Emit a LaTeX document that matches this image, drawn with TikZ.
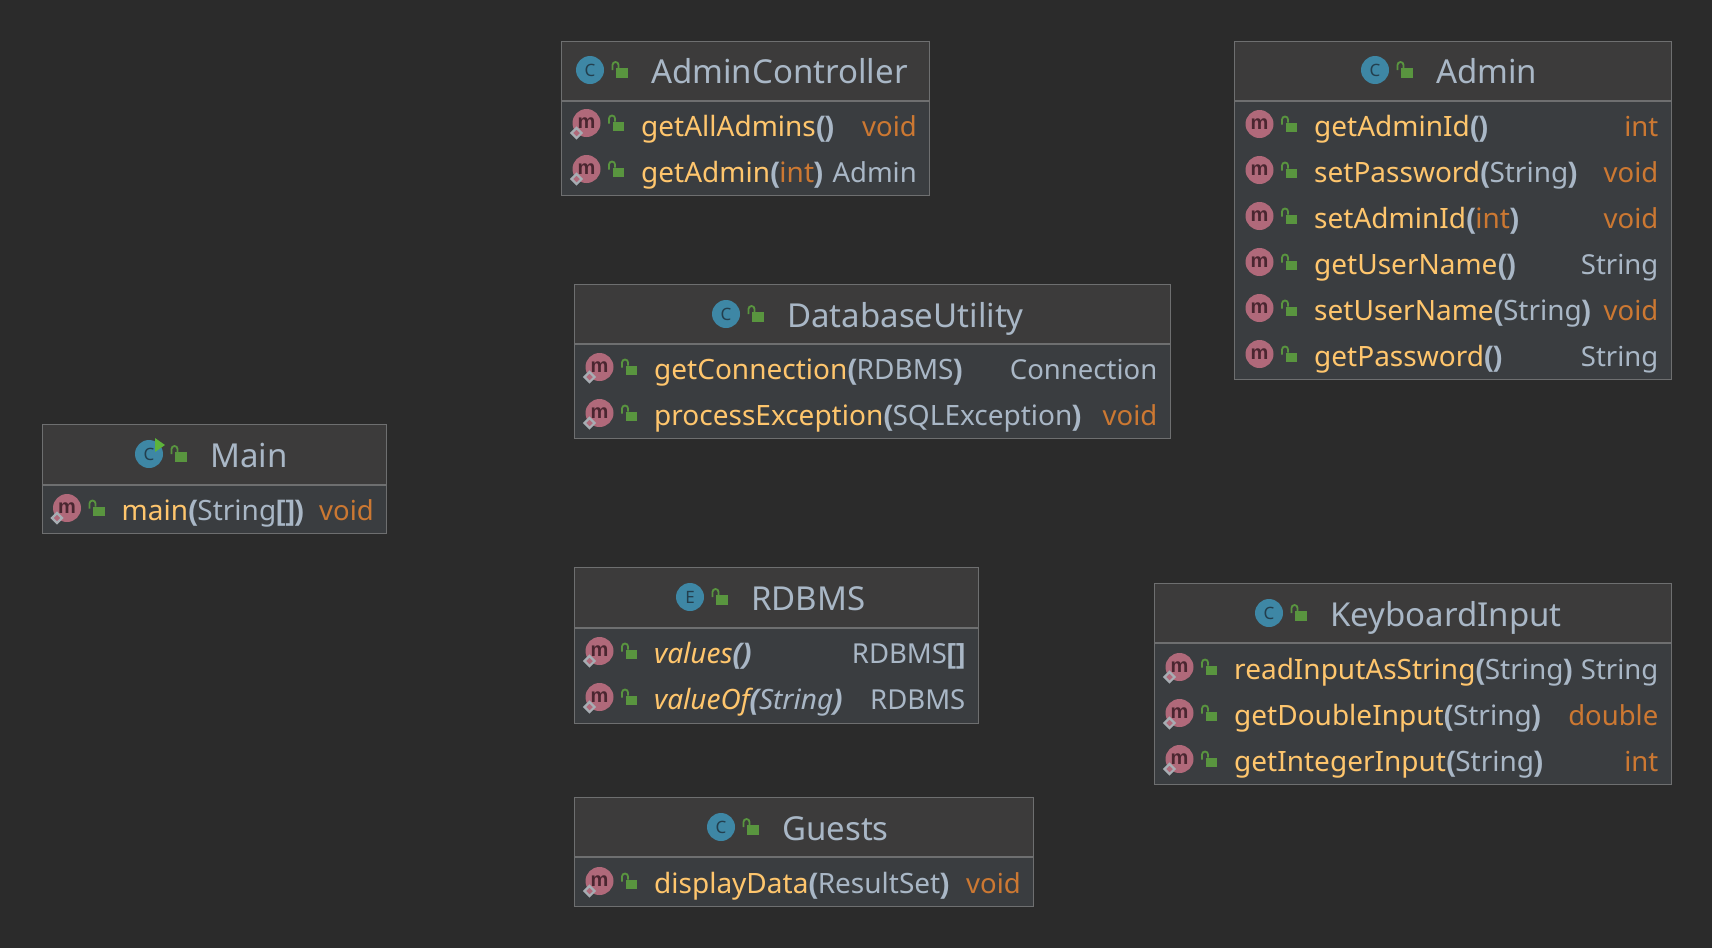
\documentclass[tikz,border=0pt]{standalone}
\usepackage{fontspec}
\setmainfont{Noto Sans}[BoldFont={Liberation Sans Bold},BoldItalicFont={Liberation Sans Bold Italic}]
\usetikzlibrary{shapes.geometric}
\definecolor{bgc}{HTML}{2B2B2B}
\definecolor{headc}{HTML}{3C3B3B}
\definecolor{bodyc}{HTML}{3A3D40}
\definecolor{edgec}{HTML}{6E6F70}
\definecolor{txtc}{HTML}{A9B7C6}
\definecolor{yelc}{HTML}{FFC66D}
\definecolor{orac}{HTML}{CC7832}
\definecolor{bluec}{HTML}{3E87A5}
\definecolor{bluetxt}{HTML}{233F4E}
\definecolor{pinkc}{HTML}{B0697A}
\definecolor{pinktxt}{HTML}{4A2630}
\definecolor{greenc}{HTML}{59953F}
\definecolor{runc}{HTML}{5DB33A}
\definecolor{diac}{HTML}{A7ADB3}
\newif\ifshowdia
\showdiatrue
\tikzset{
  x=1pt,y=-1pt,
  boxedge/.style={draw=edgec,line width=1.3pt},
  title/.style={anchor=base west,inner sep=0pt,text=txtc,font=\fontsize{33}{36}\selectfont},
  mtext/.style={anchor=base west,inner sep=0pt,font=\fontsize{28}{30}\selectfont},
  ttext/.style={anchor=base east,inner sep=0pt,font=\fontsize{27.5}{30}\selectfont},
  cicon/.style={circle,fill=bluec,minimum size=28pt,inner sep=0pt,text=bluetxt,font=\fontsize{17}{18}\selectfont},
  micon/.style={circle,fill=pinkc,minimum size=28pt,inner sep=0pt,text=pinktxt,font=\fontsize{20}{22}\selectfont\bfseries},
  lockbody/.style={fill=greenc},
  lockarc/.style={draw=greenc,line width=1.8pt},
  dia/.style={diamond,fill=pinkc,draw=diac,line width=2.2pt,minimum size=11pt,inner sep=0pt},
}
\newcommand{\Mn}[1]{\textcolor{yelc}{#1}}
\newcommand{\Pn}[1]{\textcolor{txtc}{\textbf{#1}}}
\newcommand{\Ty}[1]{\textcolor{txtc}{#1}}
\newcommand{\Kw}[1]{\textcolor{orac}{#1}}
% name, left, top, right, bottom, line y
\newcommand{\classbox}[6]{%
  \fill[bodyc] (#2,#6) rectangle (#4,#5);
  \fill[headc] (#2,#3) rectangle (#4,#6);
  \node[inner sep=0pt,minimum width=#4pt-#2pt,minimum height=#5pt-#3pt,boxedge,anchor=north west] (#1) at (#2,#3) {};
  \draw[edgec,line width=1.3pt] (#2,#6) -- (#4,#6);
}
\newcommand{\lock}[2]{% x of body left, y of body top
  \fill[lockbody] (#1,#2) rectangle ++(11.5,9.5);
  \draw[lockarc] (#1-3.5,#2+2) -- (#1-3.5,#2-3) arc[start angle=180,end angle=0,radius=3pt] -- ++(0,3);
}
% name, circle x, top, title, letter
\newcommand{\header}[5]{%
  \node[cicon] (#1icon) at (#2,#3+29) {\raisebox{-1pt}{#5}};
  \lock{#2+26}{#3+27}
  \node[title] (#1title) at (#2+61,#3+42) {#4};
}
% [baseline offset], name, left, right, centre y, method, type
\newcommand{\mrow}[7][12]{%
  \node[micon] (#2icon) at (#3+25.5,#5) {\raisebox{-2pt}{m}};
  \ifshowdia\node[dia] (#2dia) at (#3+15.5,#5+10) {};\fi
  \lock{#3+51.5}{#5-1.5}
  \node[mtext] (#2text) at (#3+80,#5+#1) {#6};
  \node[ttext] (#2type) at (#4-12,#5+#1) {#7};
}
\begin{document}
\begin{tikzpicture}
\useasboundingbox (0,0) rectangle (1712,948);
\fill[bgc] (0,0) rectangle (1712,948);
% AdminController
\classbox{ac}{561}{41}{929}{195}{101}
\header{ach}{590}{41}{AdminController}{C}
\mrow[13]{aca}{561}{929}{123}{\Mn{getAllAdmins}\Pn{()}}{\Kw{void}}
\mrow[13]{acb}{561}{929}{169}{\Mn{getAdmin}\Pn{(}\Kw{int}\Pn{)}}{\Ty{Admin}}
% Admin
\showdiafalse
\classbox{ad}{1234}{41}{1670.5}{379}{101}
\header{adh}{1375}{41}{Admin}{C}
\mrow{ada}{1234}{1670.5}{124}{\Mn{getAdminId}\Pn{()}}{\Kw{int}}
\mrow{adb}{1234}{1670.5}{170}{\Mn{setPassword}\Pn{(}\Ty{String}\Pn{)}}{\Kw{void}}
\mrow{adc}{1234}{1670.5}{216}{\Mn{setAdminId}\Pn{(}\Kw{int}\Pn{)}}{\Kw{void}}
\mrow{add}{1234}{1670.5}{262}{\Mn{getUserName}\Pn{()}}{\Ty{String}}
\mrow{ade}{1234}{1670.5}{308}{\Mn{setUserName}\Pn{(}\Ty{String}\Pn{)}}{\Kw{void}}
\mrow{adf}{1234}{1670.5}{354}{\Mn{getPassword}\Pn{()}}{\Ty{String}}
\showdiatrue
% DatabaseUtility
\classbox{du}{574}{284}{1169.5}{438}{344}
\header{duh}{726}{285}{DatabaseUtility}{C}
\mrow{dua}{574}{1169.5}{367}{\Mn{getConnection}\Pn{(}\Ty{RDBMS}\Pn{)}}{\Ty{Connection}}
\mrow{dub}{574}{1169.5}{413}{\Mn{processException}\Pn{(}\Ty{SQLException}\Pn{)}}{\Kw{void}}
% Main
\classbox{mn}{41.5}{424}{386}{533}{485}
\header{mnh}{149}{425}{Main}{C}
\fill[runc] (155,438) -- (165,445) -- (155,452) -- cycle;
\mrow{mna}{41.5}{386}{508}{\Mn{main}\Pn{(}\Ty{String}\Pn{[])}}{\Kw{void}}
% RDBMS
\classbox{rd}{574}{567}{977.5}{723}{628}
\header{rdh}{690}{568}{RDBMS}{E}
\mrow{rda}{574}{977.5}{651}{\textit{\Mn{values}\Pn{()}}}{\Ty{RDBMS}\Pn{[]}}
\mrow{rdb}{574}{977.5}{697}{\textit{\Mn{valueOf}\Pn{(}\Ty{String}\Pn{)}}}{\Ty{RDBMS}}
% KeyboardInput
\classbox{ki}{1154}{583}{1670.5}{784}{643}
\header{kih}{1269}{584}{KeyboardInput}{C}
\mrow[12.5]{kia}{1154}{1670.5}{667}{\Mn{readInputAsString}\Pn{(}\Ty{String}\Pn{)}}{\Ty{String}}
\mrow[12.5]{kib}{1154}{1670.5}{713}{\Mn{getDoubleInput}\Pn{(}\Ty{String}\Pn{)}}{\Kw{double}}
\mrow[12.5]{kic}{1154}{1670.5}{759}{\Mn{getIntegerInput}\Pn{(}\Ty{String}\Pn{)}}{\Kw{int}}
% Guests
\classbox{gu}{574}{797}{1033}{906}{857}
\header{guh}{721}{798}{Guests}{C}
\mrow[12.5]{gua}{574}{1033}{881}{\Mn{displayData}\Pn{(}\Ty{ResultSet}\Pn{)}}{\Kw{void}}
\end{tikzpicture}
\end{document}
